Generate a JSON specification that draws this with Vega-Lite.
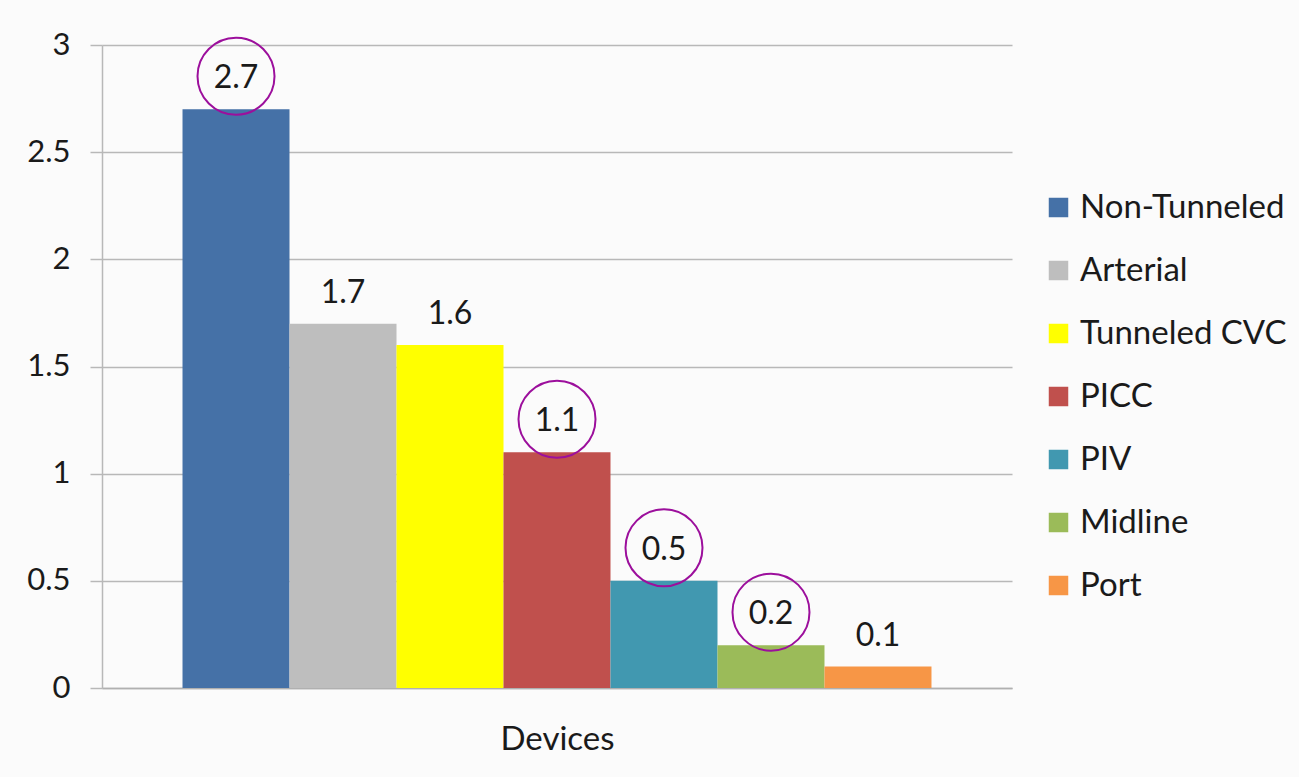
{
  "$schema": "https://vega.github.io/schema/vega-lite/v6.json",
  "width": 910,
  "height": 643,
  "autosize": {"type": "none"},
  "padding": {"left": 102, "top": 45, "right": 287, "bottom": 89},
  "background": "#fbfbfb",
  "config": {
    "font": "Lato",
    "view": {"stroke": null},
    "axis": {"labelFont": "Lato", "titleFont": "Lato", "labelColor": "#1a1a1a", "titleColor": "#1a1a1a"},
    "legend": {"labelFont": "Lato", "labelColor": "#1a1a1a"}
  },
  "data": {
    "values": [
      {"group": "Devices", "device": "Non-Tunneled", "value": 2.7, "circled": true},
      {"group": "Devices", "device": "Arterial", "value": 1.7, "circled": false},
      {"group": "Devices", "device": "Tunneled CVC", "value": 1.6, "circled": false},
      {"group": "Devices", "device": "PICC", "value": 1.1, "circled": true},
      {"group": "Devices", "device": "PIV", "value": 0.5, "circled": true},
      {"group": "Devices", "device": "Midline", "value": 0.2, "circled": true},
      {"group": "Devices", "device": "Port", "value": 0.1, "circled": false}
    ]
  },
  "encoding": {
    "x": {
      "field": "group",
      "type": "nominal",
      "scale": {"paddingInner": 0, "paddingOuter": 0.1075},
      "axis": {
        "title": "Devices",
        "labels": false,
        "ticks": false,
        "domainColor": "#b0b0b0",
        "domainWidth": 1.5,
        "titleFontSize": 33,
        "titleFontWeight": "normal",
        "titlePadding": 35
      }
    },
    "xOffset": {
      "field": "device",
      "type": "nominal",
      "scale": {
        "domain": ["Non-Tunneled", "Arterial", "Tunneled CVC", "PICC", "PIV", "Midline", "Port"],
        "paddingInner": 0,
        "paddingOuter": 0
      }
    },
    "y": {
      "field": "value",
      "type": "quantitative",
      "scale": {"domain": [0, 3], "nice": false},
      "axis": {
        "title": null,
        "values": [0, 0.5, 1, 1.5, 2, 2.5, 3],
        "format": "~g",
        "labelFontSize": 31,
        "labelPadding": 20,
        "tickSize": 12,
        "tickColor": "#b8b8b8",
        "tickWidth": 1.5,
        "grid": true,
        "gridColor": "#b8b8b8",
        "gridWidth": 1.5,
        "domainColor": "#b8b8b8",
        "domainWidth": 1.5
      }
    }
  },
  "layer": [
    {
      "mark": {"type": "bar"},
      "encoding": {
        "color": {
          "field": "device",
          "type": "nominal",
          "scale": {
            "domain": ["Non-Tunneled", "Arterial", "Tunneled CVC", "PICC", "PIV", "Midline", "Port"],
            "range": ["#4571a7", "#bebebe", "#ffff00", "#c0504d", "#4198b0", "#9bbb59", "#f79646"]
          },
          "legend": {
            "title": null,
            "orient": "none",
            "legendX": 940,
            "legendY": 146,
            "symbolType": "square",
            "symbolSize": 380,
            "symbolStrokeWidth": 0,
            "labelFontSize": 33,
            "labelOffset": 5,
            "labelLimit": 400,
            "rowPadding": 29,
            "padding": 0
          }
        }
      }
    },
    {
      "mark": {"type": "text", "fontSize": 32, "baseline": "middle", "yOffset": -31, "color": "#1a1a1a"},
      "encoding": {
        "text": {"field": "value", "type": "quantitative", "format": ".1f"}
      }
    },
    {
      "transform": [{"filter": "datum.circled"}],
      "mark": {"type": "point", "shape": "circle", "filled": false, "size": 5929, "stroke": "#9c0f9c", "strokeWidth": 2, "opacity": 1, "yOffset": -33},
      "encoding": {}
    }
  ]
}
